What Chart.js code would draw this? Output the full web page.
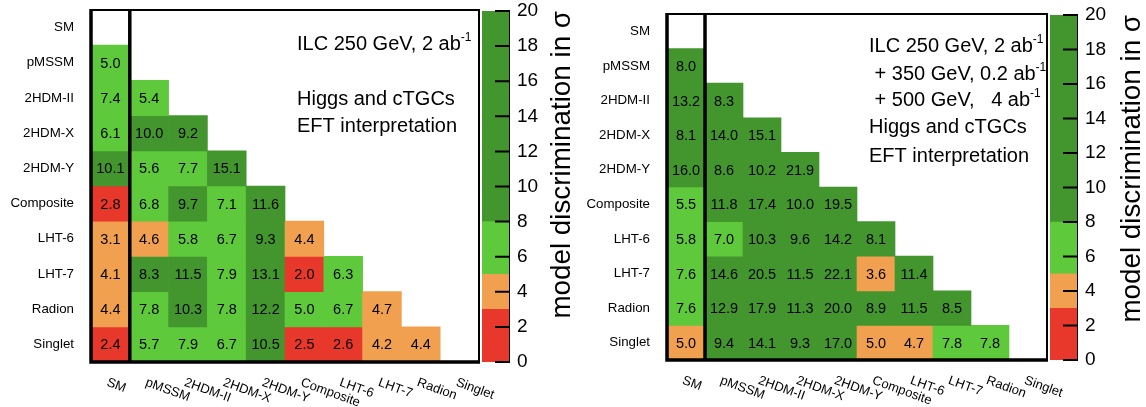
<!DOCTYPE html>
<html>
<head>
<meta charset="utf-8">
<script src="https://cdn.jsdelivr.net/npm/chart.js@4.4.1/dist/chart.umd.min.js"></script>
<style>
  html, body { margin: 0; padding: 0; background: #fff; }
  #wrap { position: relative; width: 1146px; height: 407px; overflow: hidden; }
  #wrap div { position: absolute; top: 0; height: 407px; }
</style>
</head>
<body>
<div id="wrap">
  <div style="left:0;width:540px"><canvas id="heat250"></canvas></div>
  <div style="left:482px;width:108px"><canvas id="bar250"></canvas></div>
  <div style="left:576px;width:530px"><canvas id="heatAll"></canvas></div>
  <div style="left:1050px;width:96px"><canvas id="barAll"></canvas></div>
</div>
<script>
const models = ['SM', 'pMSSM', '2HDM-II', '2HDM-X', '2HDM-Y', 'Composite', 'LHT-6', 'LHT-7', 'Radion', 'Singlet'];

// discrimination in sigma, row model vs column model (lower triangle)
const ilc250 = [
  [],
  [5.0],
  [7.4, 5.4],
  [6.1, 10.0, 9.2],
  [10.1, 5.6, 7.7, 15.1],
  [2.8, 6.8, 9.7, 7.1, 11.6],
  [3.1, 4.6, 5.8, 6.7, 9.3, 4.4],
  [4.1, 8.3, 11.5, 7.9, 13.1, 2.0, 6.3],
  [4.4, 7.8, 10.3, 7.8, 12.2, 5.0, 6.7, 4.7],
  [2.4, 5.7, 7.9, 6.7, 10.5, 2.5, 2.6, 4.2, 4.4]
];
const ilcAll = [
  [],
  [8.0],
  [13.2, 8.3],
  [8.1, 14.0, 15.1],
  [16.0, 8.6, 10.2, 21.9],
  [5.5, 11.8, 17.4, 10.0, 19.5],
  [5.8, 7.0, 10.3, 9.6, 14.2, 8.1],
  [7.6, 14.6, 20.5, 11.5, 22.1, 3.6, 11.4],
  [7.6, 12.9, 17.9, 11.3, 20.0, 8.9, 11.5, 8.5],
  [4.96, 9.4, 14.1, 9.3, 17.0, 4.96, 4.7, 7.8, 7.8]
];

const bandEdges = [0, 3, 5, 8, 20];
const bandColours = ['#e8372b', '#f0a04e', '#5dc93b', '#42962d'];
const barTicks = [0, 2, 4, 6, 8, 10, 12, 14, 16, 18, 20];

const notes250 = [['ILC 250 GeV, 2 ab', '-1'], ['', ''], ['Higgs and cTGCs', ''], ['EFT interpretation', '']];
const notesAll = [['ILC 250 GeV, 2 ab', '-1'], [' + 350 GeV, 0.2 ab', '-1'], [' + 500 GeV,   4 ab', '-1'], ['Higgs and cTGCs', ''], ['EFT interpretation', '']];

const FONT = "'Liberation Sans', Arial, Helvetica, sans-serif";

function colourFor(v) {
  for (let i = bandEdges.length - 2; i >= 0; i--) {
    if (v >= bandEdges[i]) return bandColours[i];
  }
  return bandColours[0];
}

function noPad(s) {
  s.paddingTop = 0;
  s.paddingBottom = 0;
  s.paddingLeft = 0;
  s.paddingRight = 0;
}

const heatDecor = {
  id: 'heatDecor',
  afterDatasetsDraw(chart, args, opts) {
    const {ctx, chartArea: a, scales: {x, y}} = chart;
    const values = opts.values;
    ctx.save();
    ctx.fillStyle = '#000';
    ctx.font = '14.5px ' + FONT;
    ctx.textAlign = 'center';
    ctx.textBaseline = 'middle';
    values.forEach((row, r) => {
      row.forEach((v, c) => {
        ctx.fillText(v.toFixed(1), x.getPixelForValue(c), y.getPixelForValue(r + 0.5) + 1);
      });
    });

    // frame
    ctx.strokeStyle = '#000';
    ctx.lineWidth = 2;
    ctx.strokeRect(a.left, a.top, a.right - a.left, a.bottom - a.top);
    ctx.lineWidth = 3.5;
    ctx.beginPath();
    ctx.moveTo(a.left, a.top - 1);
    ctx.lineTo(a.left, a.bottom);
    ctx.lineTo(a.right + 1, a.bottom);
    const sep = (x.getPixelForValue(0) + x.getPixelForValue(1)) / 2;
    ctx.moveTo(sep, a.top);
    ctx.lineTo(sep, a.bottom);
    ctx.stroke();

    // rotated column labels
    ctx.font = '13px ' + FONT;
    ctx.textAlign = 'left';
    ctx.textBaseline = 'top';
    models.forEach((m, c) => {
      ctx.save();
      ctx.translate(x.getPixelForValue(c) - 1, a.bottom + 14);
      ctx.rotate(20 * Math.PI / 180);
      ctx.fillText(m, 0, 0);
      ctx.restore();
    });

    // annotation
    ctx.textBaseline = 'alphabetic';
    opts.notes.forEach((line, i) => {
      const bx = a.left + opts.noteX;
      const by = a.top + opts.noteY[i];
      ctx.font = '20px ' + FONT;
      ctx.fillText(line[0], bx, by);
      if (line[1]) {
        const w = ctx.measureText(line[0]).width;
        ctx.font = '12px ' + FONT;
        ctx.fillText(line[1], bx + w, by - 9);
      }
    });
    ctx.restore();
  }
};

function heatmap(id, values, pad, axisH, notes, noteX, noteY) {
  const datasets = values.map((row, r) => ({
    data: models.map((m, c) => (c < row.length ? [r, r + 1] : null)),
    backgroundColor: models.map((m, c) => (c < row.length ? colourFor(row[c]) : 'rgba(0,0,0,0)')),
    borderWidth: 0,
    grouped: false,
    barPercentage: 1,
    categoryPercentage: 1
  }));
  return new Chart(id, {
    type: 'bar',
    data: { labels: models, datasets },
    options: {
      responsive: true,
      maintainAspectRatio: false,
      animation: false,
      layout: { padding: pad },
      plugins: {
        legend: { display: false },
        tooltip: { enabled: false },
        heatDecor: { values, notes, noteX, noteY }
      },
      scales: {
        x: {
          grid: { display: false, drawTicks: false },
          border: { display: false },
          ticks: { display: false },
          afterFit: s => { s.height = axisH; noPad(s); }
        },
        y: {
          min: 0,
          max: 10,
          reverse: true,
          grid: { display: false, drawTicks: false },
          border: { display: false },
          afterBuildTicks: s => { s.ticks = models.map((m, i) => ({ value: i + 0.5 })); },
          ticks: {
            autoSkip: false,
            padding: 17,
            color: '#000',
            font: { family: FONT, size: 13.3 },
            callback: (v, i) => models[i]
          },
          afterFit: s => { s.width = 91; noPad(s); }
        }
      }
    },
    plugins: [heatDecor]
  });
}

const barDecor = {
  id: 'barDecor',
  afterDraw(chart, args, opts) {
    const {ctx, chartArea: a, scales: {y}} = chart;
    ctx.save();
    ctx.strokeStyle = '#000';
    ctx.lineWidth = 2;
    ctx.beginPath();
    barTicks.forEach(t => {
      const py = y.getPixelForValue(t);
      ctx.moveTo(a.right - 14, py);
      ctx.lineTo(a.right, py);
    });
    ctx.stroke();
    ctx.fillStyle = '#000';
    ctx.font = '27.8px ' + FONT;
    ctx.textAlign = 'right';
    ctx.textBaseline = 'middle';
    ctx.translate(opts.titleX, a.top);
    ctx.rotate(-Math.PI / 2);
    ctx.fillText('model discrimination in σ', 0, 0);
    ctx.restore();
  }
};

function colourBar(id, top, bottom, axisW, titleX) {
  return new Chart(id, {
    type: 'bar',
    data: {
      labels: [''],
      datasets: bandColours.map((col, i) => ({
        data: [[bandEdges[i], bandEdges[i + 1]]],
        backgroundColor: col,
        borderWidth: 0,
        grouped: false,
        barPercentage: 1,
        categoryPercentage: 1
      }))
    },
    options: {
      responsive: true,
      maintainAspectRatio: false,
      animation: false,
      layout: { padding: { top, bottom: 407 - bottom, left: 0, right: 0 } },
      plugins: { legend: { display: false }, tooltip: { enabled: false }, barDecor: { titleX } },
      scales: {
        x: { display: false },
        y: {
          position: 'right',
          min: 0,
          max: 20,
          afterBuildTicks: s => { s.ticks = barTicks.map(v => ({ value: v })); },
          ticks: { color: '#000', padding: 8, font: { family: FONT, size: 19 } },
          grid: { display: false, drawTicks: false },
          border: { display: true, color: '#000', width: 2 },
          afterFit: s => { s.width = axisW; noPad(s); }
        }
      }
    },
    plugins: [barDecor]
  });
}

heatmap('heat250', ilc250, { top: 10, right: 61, left: 0, bottom: 0 }, 45, notes250, 206, [40, 67, 95, 122]);
colourBar('bar250', 11, 362, 81, 80);
heatmap('heatAll', ilcAll, { top: 14, right: 59, left: 0, bottom: 0 }, 47, notesAll, 202, [38, 66, 92, 119, 148]);
colourBar('barAll', 15, 360, 69, 82);
</script>
</body>
</html>
